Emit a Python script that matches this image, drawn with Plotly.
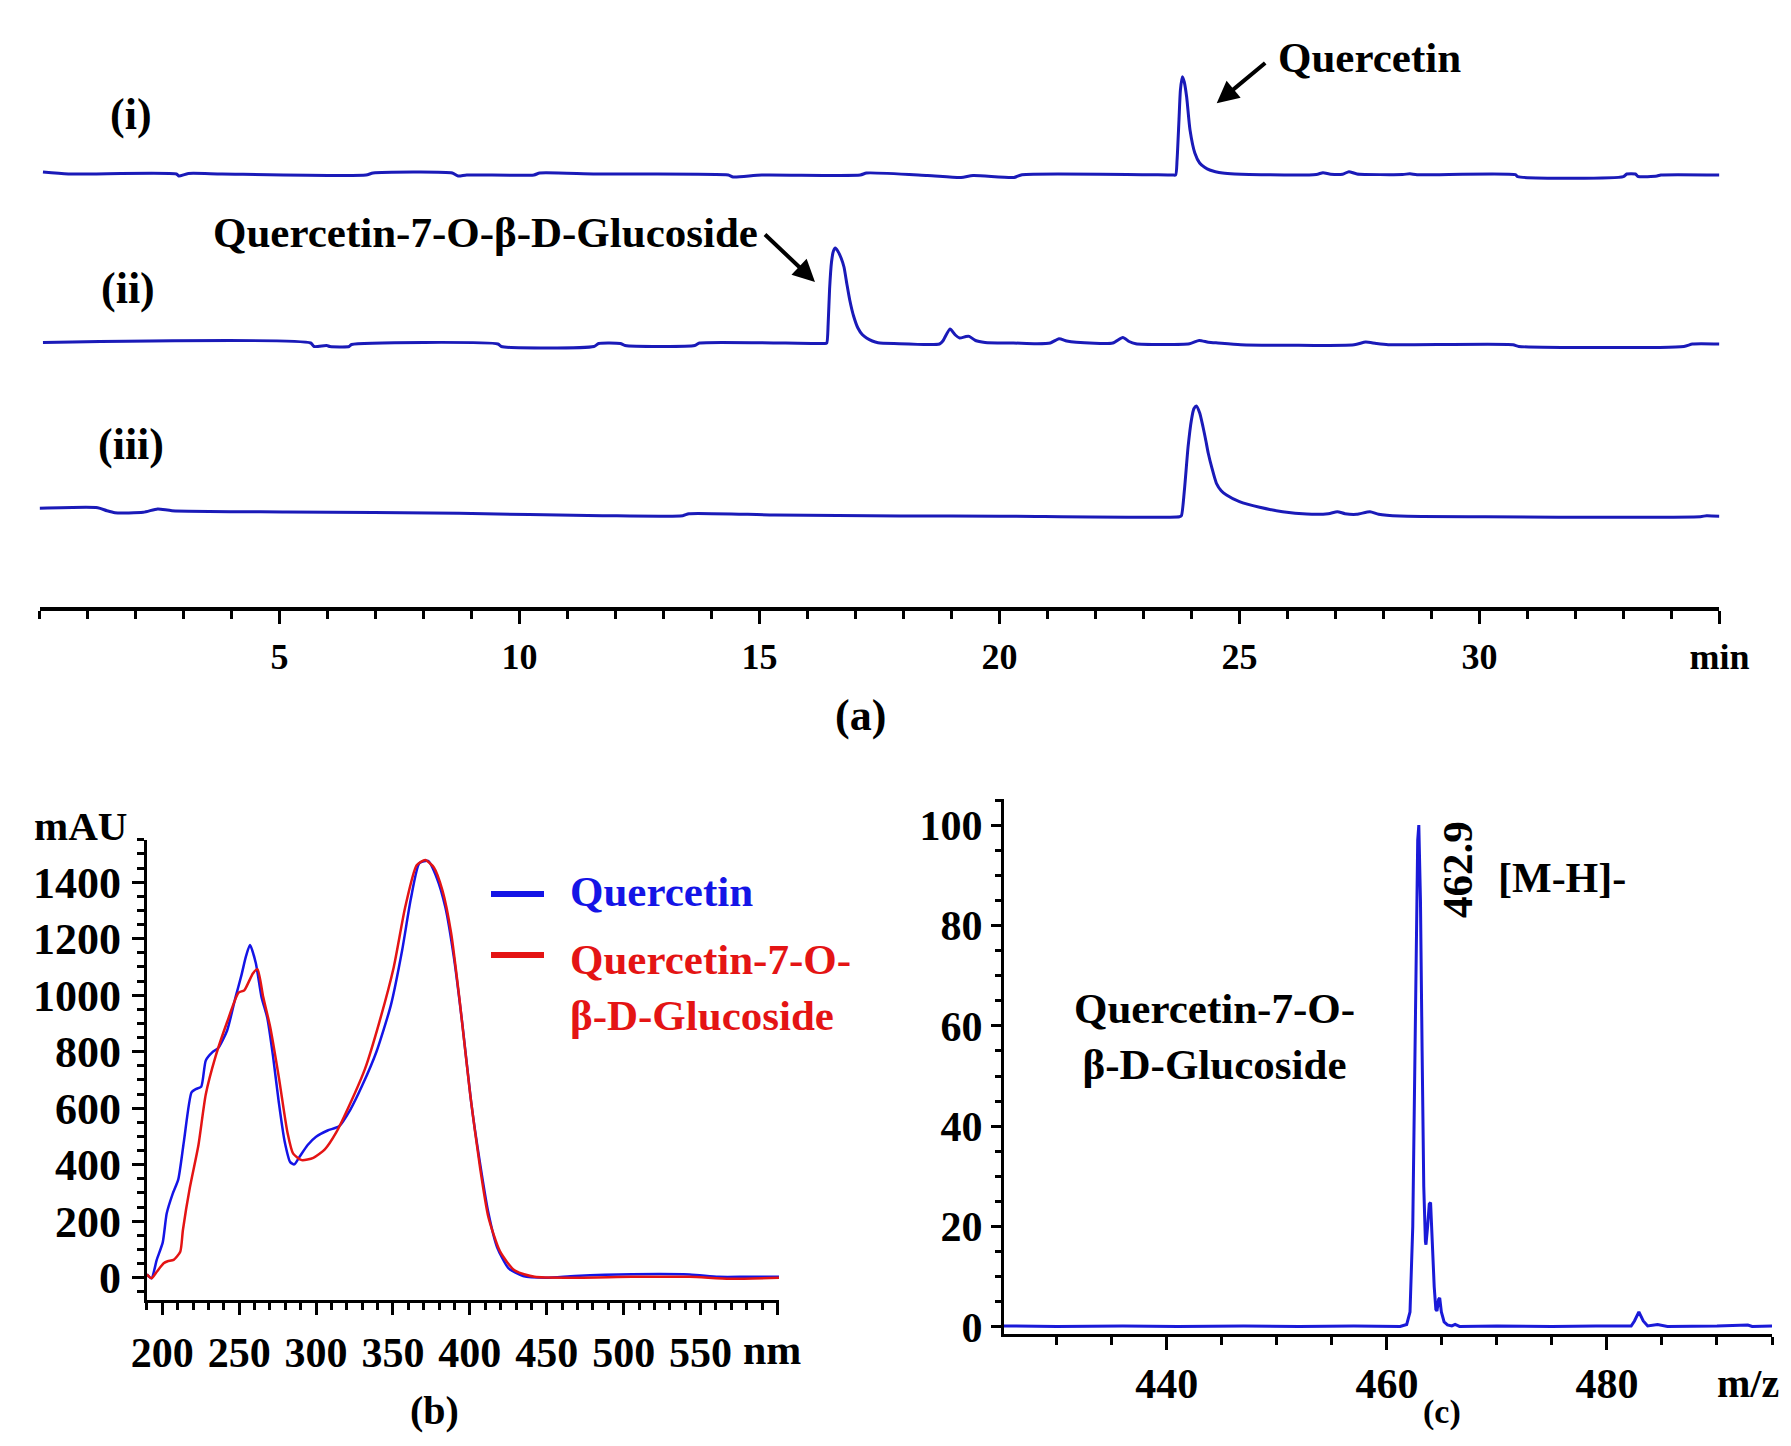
import plotly.graph_objects as go

# The page body has an 8 px default margin, so the figure is drawn 8 px smaller on
# each side and all layout positions below are given in window pixels.
OFF = 8
W, H = 1791 - 2 * OFF, 1446 - 2 * OFF
FONT = "Liberation Serif"

# ---------------- data ----------------
# (a) HPLC chromatograms: retention time (min) and detector signal (arbitrary units)
time_i = [0.07, 0.6, 2.85, 2.9, 3.1, 3.8, 6.8, 6.95, 8.6, 8.72, 8.9, 10.3, 10.42, 11.6, 14.35,
          14.45, 15.05, 17.1, 17.23, 18.5, 19.2, 19.45, 20.3, 20.47, 23.6, 23.67, 23.70, 23.74,
          23.77, 23.81, 23.85, 23.9, 23.97, 24.07, 24.17, 24.28, 24.38, 24.5, 24.65, 24.9, 25.2,
          26.6, 26.74, 26.9, 27.15, 27.28, 27.45, 28.4, 28.55, 28.7, 30.75, 30.8, 33.0, 33.07,
          33.25, 33.31, 33.7, 33.78, 35.0]
signal_i = [3, 1, 1, -1, 1.5, 1, 0, 2, 2, -1, 0, 0, 2, 1, 0,
            -2, 0, 0, 2, -0.5, -2.5, -0.5, -2.5, 0.3, 0, 0, 15, 55,
            85, 98.3, 93, 78, 45, 22, 12, 7.5, 5, 3.3, 2, 1, 0.5,
            0.5, 2.3, 0.8, 0.8, 3.3, 1, 0.5, 1.2, 0.3, 0.3, -1.7, -1.7, 1,
            1, -1.5, -1, 0, 0]

time_ii = [0.07, 5.65, 5.72, 5.98, 6.05, 6.45, 6.5, 9.55, 9.62, 11.55, 11.65, 12.1, 12.2, 13.65,
           13.75, 16.35, 16.4, 16.43, 16.46, 16.5, 16.54, 16.58, 16.63, 16.7, 16.76, 16.82, 16.88,
           16.96, 17.05, 17.14, 17.23, 17.35, 17.47, 17.8, 18.75, 18.82, 18.97, 19.08, 19.17, 19.3,
           19.37, 19.5, 19.7, 20.29, 20.77, 21.06, 21.24, 21.4, 21.6, 22.36, 22.57, 22.7, 22.84,
           23.96, 24.16, 24.35, 24.55, 25.03, 27.39, 27.63, 27.85, 28.1, 30.7, 30.82, 34.26, 34.44,
           35.0]
signal_ii = [1.5, 1, -2.5, -1.5, -2.5, -2.5, -0.5, 0, -2.5, -2.5, 0.5, 0.5, -1.5, -1.5,
             1, 0.5, 1, 20, 55, 82, 93, 96, 93, 86, 77, 60, 44,
             28, 16, 9.5, 6, 3, 1.3, 0.5, 0, 3, 15, 9, 6, 7.5,
             7.6, 3.5, 1.6, 1, 0.3, 1, 5.3, 3, 1.7, 1, 6.6, 2.5, 0.3,
             0.3, 3.6, 1.8, 1, -0.7, -0.7, 2, 0.5, -0.7, -0.7, -2.4, -2.4, 0,
             0]

time_iii = [0.0, 1.21, 1.4, 1.57, 2.16, 2.46, 2.76, 5.15, 8.74, 11.73, 13.4, 13.53, 15.32, 17.93,
            20.0, 23.75, 23.79, 23.85, 23.93, 24.0, 24.05, 24.1, 24.17, 24.24, 24.3, 24.35, 24.43,
            24.52, 24.62, 24.73, 25.0, 25.42, 25.9, 26.4, 26.85, 27.04, 27.2, 27.44, 27.72, 27.9,
            28.34, 30.0, 34.6, 34.73, 35.0]
signal_iii = [8.4, 9, 6, 4, 4.4, 7.7, 6, 4.7, 3.4, 1, 1, 3, 1.7, 0.7,
              0.5, 0, 1, 25, 70, 97, 108, 110.7, 104, 90, 76, 63.4, 48,
              33.4, 26, 21.7, 15, 9.4, 5, 2.7, 3, 5, 3, 2.4, 5, 2.5,
              0.7, 0, 0, 1, 0.5]

# (b) UV spectra: wavelength (nm) and absorbance (mAU)
wl_quercetin = [190, 193, 196.4, 200.3, 202.9, 206.7, 210.4, 214.1, 219, 221.6, 225.3, 228.3,
                232.8, 236.5, 242.1, 247.7, 251.4, 254.4, 257, 260.8, 264.5, 268.3, 272, 275.8,
                279.5, 283.2, 285.8, 288.8, 294.4, 300, 307.5, 315, 322.4, 329.9, 339.2, 348.6,
                356, 361.6, 367.2, 372.8, 378.5, 384.1, 389.7, 395.3, 400.9, 406.5, 412.1, 417.7,
                425.2, 434.6, 449.5, 468.2, 505.5, 542.9, 561.6, 580.3, 601]
abs_quercetin = [12, -2, 63, 125, 228, 296, 348, 484, 656, 667, 676, 769,
                 799, 814, 874, 994, 1069, 1137, 1178, 1114, 994, 919, 784, 619,
                 484, 409, 401, 424, 469, 499, 521, 536, 596, 679, 799, 964,
                 1160, 1340, 1467, 1475, 1415, 1310, 1130, 889, 619, 409, 228, 108,
                 33, 6, 0, 6, 12, 11, 3, 3, 3]

wl_glucoside = [190, 193, 196.4, 200.9, 203.5, 207.4, 211.7, 213.4, 217.9, 223.5, 228.3, 234.7,
                242.1, 249.6, 253.3, 258.9, 261.9, 265.6, 270.1, 275.8, 281.4, 285.1, 290.7,
                298.2, 305.7, 313.1, 322.4, 331.8, 341.1, 350.5, 357.9, 365.4, 371, 376.6, 382.2,
                387.8, 393.4, 400.2, 406.5, 412.1, 419.6, 429, 442.1, 468.2, 505.5, 542.9, 569,
                601]
abs_glucoside = [12, -2, 21, 51, 58, 63, 92, 168, 318, 469, 649, 784,
                 904, 1009, 1017, 1077, 1092, 994, 889, 709, 514, 439, 416,
                 424, 454, 514, 619, 739, 904, 1099, 1310, 1460, 1478, 1452, 1370,
                 1220, 979, 649, 394, 213, 93, 26, 3, 0, 3, 3, -4,
                 0]

# (c) ESI-MS spectrum: m/z and relative abundance (%)
mz = [425.2, 430, 436, 441, 447, 452, 457, 461.2, 461.8, 462.1, 462.35, 462.6, 462.8, 462.9,
      463.05, 463.2, 463.35, 463.5, 463.55, 463.7, 463.85, 463.97, 464.1, 464.3, 464.45, 464.55,
      464.7, 464.8, 464.95, 465.2, 465.5, 465.9, 466.2, 466.6, 470, 475, 479, 482.2, 482.5,
      482.9, 483.3, 483.7, 484.6, 485.5, 490, 492.8, 493.2, 495]
abundance = [0.2, 0.1, 0.2, 0.1, 0.2, 0.1, 0.2, 0.1, 0.5, 3, 20, 65, 97, 100,
             85, 55, 28, 17, 16.4, 20, 24.5, 24.8, 18, 8, 3.5, 3.2,
             5.5, 5.8, 3, 1, 0.4, 0.2, 0.5, 0.1, 0.2, 0.1, 0.2, 0.2, 1.2,
             3, 1.2, 0.2, 0.5, 0.1, 0.2, 0.4, 0.1, 0.2]

chrom_ticks = [5, 10, 15, 20, 25, 30, 35]
chrom_ticktext = ["5", "10", "15", "20", "25", "30", "min"]
uv_ticks = [200, 250, 300, 350, 400, 450, 500, 550, 600]
uv_ticktext = ["200", "250", "300", "350", "400", "450", "500", "550", ""]
mz_ticks = [440, 460, 480]


# ---------------- helpers (window pixel -> paper) ----------------
def px(x):
    return (x - OFF) / W


def py(y):
    return 1 - (y - OFF) / H


CHROM = "#1a1ab8"
BLUE = "#1414e6"
RED = "#e41414"
MSBLUE = "#1a1ad8"

fig = go.Figure()

fig.add_trace(go.Scatter(x=time_i, y=signal_i, mode="lines", xaxis="x", yaxis="y",
                         line=dict(color=CHROM, width=3, shape="spline", smoothing=0.6),
                         name="(i)"))
fig.add_trace(go.Scatter(x=time_ii, y=signal_ii, mode="lines", xaxis="x", yaxis="y2",
                         line=dict(color=CHROM, width=3, shape="spline", smoothing=0.6),
                         name="(ii)"))
fig.add_trace(go.Scatter(x=time_iii, y=signal_iii, mode="lines", xaxis="x", yaxis="y3",
                         line=dict(color=CHROM, width=3, shape="spline", smoothing=0.6),
                         name="(iii)"))

fig.add_trace(go.Scatter(x=wl_quercetin, y=abs_quercetin, mode="lines", xaxis="x2", yaxis="y4",
                         line=dict(color=BLUE, width=2.5, shape="spline", smoothing=0.6),
                         name="Quercetin"))
fig.add_trace(go.Scatter(x=wl_glucoside, y=abs_glucoside, mode="lines", xaxis="x2", yaxis="y4",
                         line=dict(color=RED, width=2.5, shape="spline", smoothing=0.6),
                         name="Quercetin-7-O-β-D-Glucoside"))

fig.add_trace(go.Scatter(x=mz, y=abundance, mode="lines", xaxis="x3", yaxis="y5",
                         line=dict(color=MSBLUE, width=3), name="MS"))

bold = lambda s: dict(family=FONT, size=s, color="black", weight="bold")

hidden_y = dict(visible=False, showgrid=False, zeroline=False, anchor="x", fixedrange=True)

fig.update_layout(
    width=W, height=H,
    margin=dict(l=0, r=0, t=0, b=0, pad=0, autoexpand=False),
    paper_bgcolor="white",
    plot_bgcolor="rgba(0,0,0,0)",
    showlegend=False,
    xaxis=dict(domain=[px(39.6), px(1719.4)], range=[0, 35], anchor="free", position=py(609),
               showline=True, linewidth=3.5, linecolor="black", showgrid=False, zeroline=False,
               ticks="outside", ticklen=13, tickwidth=3, tickcolor="black",
               tickmode="array", tickvals=chrom_ticks, ticktext=chrom_ticktext,
               tickfont=bold(36), ticklabelstandoff=2, automargin=False,
               minor=dict(ticks="outside", dtick=1, tick0=0, ticklen=8, tickwidth=2.5,
                          tickcolor="black", showgrid=False)),
    yaxis=dict(domain=[py(200), py(50)], range=[-25, 125], **hidden_y),
    yaxis2=dict(domain=[py(370), py(220)], range=[-26, 124], **hidden_y),
    yaxis3=dict(domain=[py(540), py(380)], range=[-23.3, 136.7], **hidden_y),
    xaxis2=dict(domain=[px(146.9), px(779)], range=[190, 601], anchor="y4",
                showline=True, linewidth=3, linecolor="black", showgrid=False, zeroline=False,
                ticks="outside", ticklen=12, tickwidth=3, tickcolor="black",
                tickmode="array", tickvals=uv_ticks, ticktext=uv_ticktext,
                tickfont=bold(42), ticklabelstandoff=2, automargin=False,
                minor=dict(ticks="outside", dtick=10, tick0=0, ticklen=7, tickwidth=2.5,
                           tickcolor="black", showgrid=False)),
    yaxis4=dict(domain=[py(1300), py(839.5)], range=[-79, 1551], anchor="x2",
                showline=True, linewidth=3, linecolor="black", showgrid=False, zeroline=False,
                ticks="outside", ticklen=12, tickwidth=3, tickcolor="black",
                dtick=200, tick0=0, tickfont=bold(44), ticklabelstandoff=2, automargin=False,
                minor=dict(ticks="outside", dtick=50, tick0=0, ticklen=7, tickwidth=2.5,
                           tickcolor="black", showgrid=False)),
    xaxis3=dict(domain=[px(1004), px(1772)], range=[425.2, 495], anchor="y5",
                showline=True, linewidth=3, linecolor="black", showgrid=False, zeroline=False,
                ticks="outside", ticklen=13, tickwidth=3, tickcolor="black",
                tickmode="array", tickvals=mz_ticks, tickfont=bold(42), ticklabelstandoff=-2,
                automargin=False,
                minor=dict(ticks="outside", dtick=5, tick0=0, ticklen=8, tickwidth=2.5,
                           tickcolor="black", showgrid=False)),
    yaxis5=dict(domain=[py(1333.5), py(799)], range=[-1.3, 105.2], anchor="x3",
                showline=True, linewidth=3, linecolor="black", showgrid=False, zeroline=False,
                ticks="outside", ticklen=10, tickwidth=3, tickcolor="black",
                dtick=20, tick0=0, tickfont=bold(42), ticklabelstandoff=0, automargin=False,
                minor=dict(ticks="outside", dtick=5, tick0=0, ticklen=6, tickwidth=2.5,
                           tickcolor="black", showgrid=False)),
)


def label(text, x, y, size=40, color="black", xanchor="center", textangle=0):
    fig.add_annotation(text=text, x=px(x), y=py(y), xref="paper", yref="paper",
                       xanchor=xanchor, yanchor="middle", showarrow=False,
                       textangle=textangle,
                       align={"left": "left", "right": "right"}.get(xanchor, "center"),
                       font=dict(family=FONT, size=size, color=color, weight="bold"))


def arrow(tail, head):
    fig.add_annotation(text="", x=px(head[0]), y=py(head[1]), xref="paper", yref="paper",
                       ax=tail[0] - head[0], ay=tail[1] - head[1], axref="pixel", ayref="pixel",
                       showarrow=True, arrowhead=2, arrowsize=1.1, arrowwidth=4,
                       arrowcolor="black")


# panel (a)
label("(i)", 131, 115, 44)
label("(ii)", 128, 288, 44)
label("(iii)", 131, 445, 44)
label("Quercetin", 1369, 57, 43)
arrow((1266.7, 61.7), (1216.7, 103.3))
label("Quercetin-7-O-β-D-Glucoside", 485, 233, 43)
arrow((763.5, 233), (815, 282))
label("(a)", 860, 715, 44)

# panel (b)
label("mAU", 80, 826, 41)
label("nm", 741, 1350, 42, xanchor="left")
label("Quercetin", 568, 891, 43, color=BLUE, xanchor="left")
label("Quercetin-7-O-<br>β-D-Glucoside", 568, 987, 43, color=RED, xanchor="left")
fig.add_shape(type="line", xref="paper", yref="paper", x0=px(491), x1=px(544),
              y0=py(894), y1=py(894), line=dict(color=BLUE, width=6))
fig.add_shape(type="line", xref="paper", yref="paper", x0=px(491), x1=px(544),
              y0=py(955), y1=py(955), line=dict(color=RED, width=6))
label("(b)", 434, 1410, 40)

# panel (c)
label("462.9", 1457, 870, 43, textangle=-90)
label("[M-H]-", 1562, 878, 42)
label("Quercetin-7-O-<br>β-D-Glucoside", 1214, 1036, 43)
label("m/z", 1781, 1383, 40, xanchor="right")
label("(c)", 1442, 1412, 34)

fig.write_html("out.html")
